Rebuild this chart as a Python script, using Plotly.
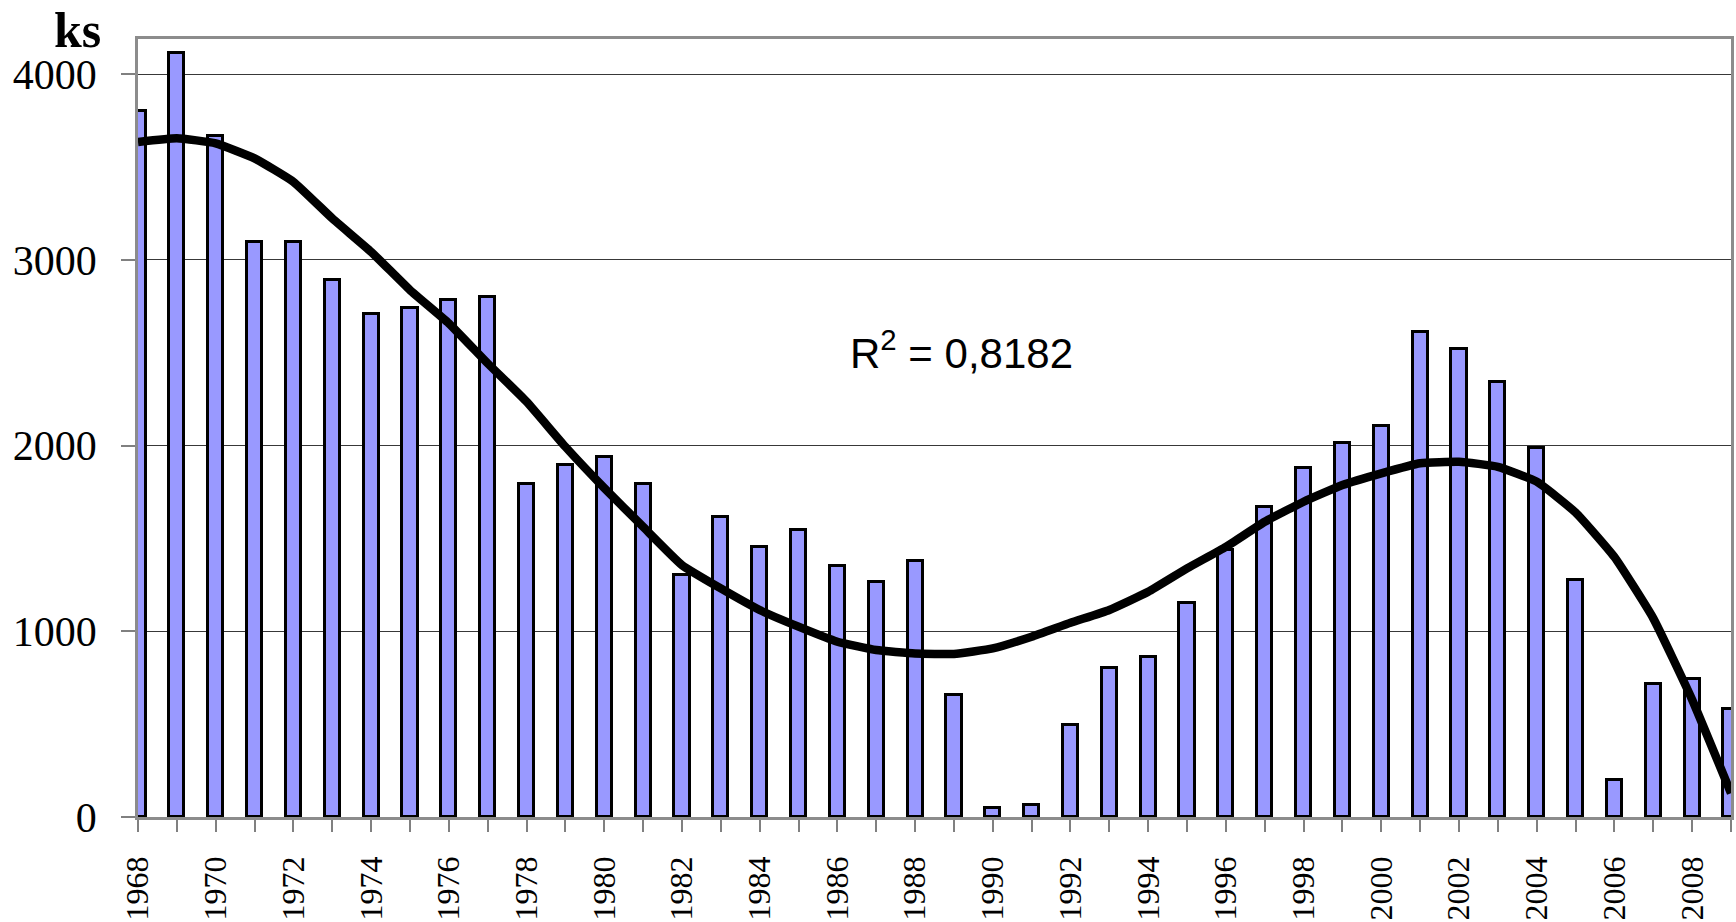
import plotly.graph_objects as go

# Yearly counts (ks), 1968-2009
years = list(range(1968, 2010))
counts = [3800, 4115, 3670, 3095, 3095, 2890, 2710, 2740, 2785, 2800,
          1795, 1895, 1940, 1795, 1305, 1615, 1455, 1545, 1350, 1265,
          1380, 655, 50, 65, 495, 800, 860, 1155, 1440, 1670,
          1880, 2015, 2105, 2610, 2520, 2345, 1985, 1275, 200, 715,
          745, 580]

# Polynomial trend values at each year
trend = [3635, 3655, 3628, 3547, 3421, 3224, 3044, 2838, 2659, 2443,
         2237, 1994, 1772, 1563, 1357, 1231, 1115, 1025, 944, 899,
         881, 878, 908, 971, 1046, 1115, 1213, 1339, 1455, 1590,
         1698, 1788, 1851, 1905, 1913, 1886, 1806, 1640, 1400, 1070,
         632, 128]

r2_text = "R<sup>2</sup> = 0,8182"
unit_text = "<b>ks</b>"

y_ticks = [0, 1000, 2000, 3000, 4000]
x_label_years = [y for y in years if (y - 1968) % 2 == 0]

W, H = 1736, 922
ML, MR, MT, MB = 138, 5, 39, 105

fig = go.Figure()
fig.add_trace(go.Bar(
    x=years, y=counts, width=0.39,
    marker=dict(color="#9999FF", line=dict(color="black", width=3)),
    showlegend=False,
))
fig.add_trace(go.Scatter(
    x=years, y=trend, mode="lines",
    line=dict(color="black", width=8.5, shape="spline", smoothing=0.4),
    showlegend=False,
))

serif = "Liberation Serif"

fig.update_layout(
    template="none",
    width=W, height=H,
    margin=dict(l=ML, r=MR, t=MT, b=MB, pad=0),
    paper_bgcolor="white", plot_bgcolor="white",
    bargap=0,
    xaxis=dict(
        range=[1968, 2009],
        tickmode="array", tickvals=x_label_years,
        ticktext=[str(y) for y in x_label_years],
        tickangle=-90,
        ticks="outside", ticklen=12, tickwidth=2, tickcolor="#808080",
        minor=dict(ticks="outside", ticklen=12, tickwidth=2, tickcolor="#808080",
                   tickmode="array", tickvals=years, showgrid=False),
        tickfont=dict(family=serif, size=32, color="black"),
        ticklabelstandoff=12,
        showgrid=False, zeroline=False,
        showline=True, linecolor="#8c8c8c", linewidth=2.5, mirror=True,
        automargin=False,
    ),
    yaxis=dict(
        range=[0, 4190],
        tickmode="array", tickvals=y_ticks,
        ticks="outside", ticklen=14, tickwidth=2, tickcolor="#808080",
        tickfont=dict(family=serif, size=42, color="black"),
        ticklabelstandoff=16,
        showgrid=True, gridcolor="#383838", gridwidth=1,
        zeroline=False,
        showline=True, linecolor="#8c8c8c", linewidth=2.5, mirror=True,
        automargin=False,
    ),
    annotations=[
        dict(text=unit_text, xref="paper", yref="paper",
             x=(103 - ML) / (W - ML - MR), y=(817 - 30) / (817 - MT),
             xanchor="right", yanchor="middle", showarrow=False,
             font=dict(family=serif, size=50, color="black")),
        dict(text=r2_text, xref="paper", yref="paper",
             x=(848 - ML) / (W - ML - MR), y=(817 - 350) / (817 - MT),
             xanchor="left", yanchor="middle", showarrow=False,
             font=dict(family="Liberation Sans", size=42, color="black")),
    ],
)

fig.write_html("out.html")
